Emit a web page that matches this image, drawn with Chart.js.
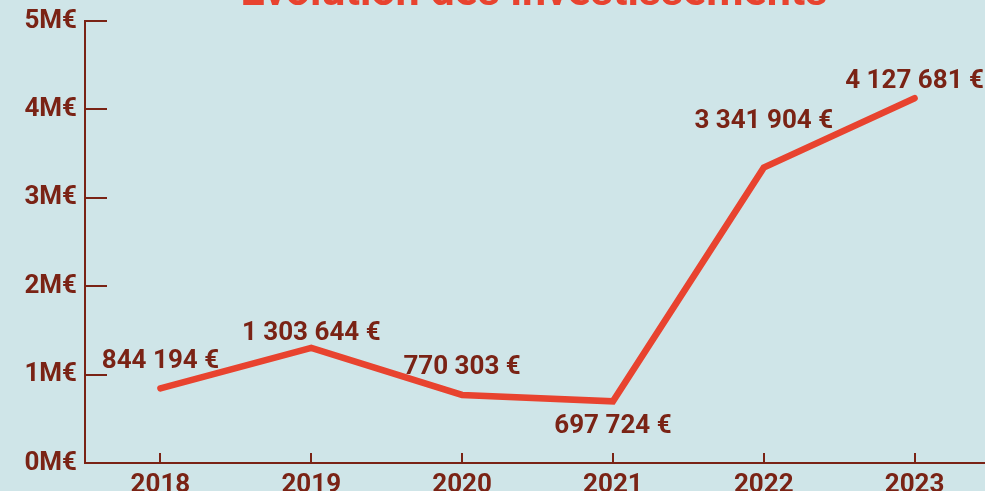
<!DOCTYPE html>
<html lang="fr">
<head>
<meta charset="utf-8">
<title>Évolution des investissements</title>
<script src="https://cdn.jsdelivr.net/npm/chart.js@4/dist/chart.umd.min.js"></script>
<style>
  html, body { margin: 0; padding: 0; background: #cfe5e8; }
  body { width: 985px; height: 491px; overflow: hidden; position: relative; }
  #chart { position: absolute; left: 0; top: -32px; }
</style>
</head>
<body>
<canvas id="chart" width="990" height="535"></canvas>
<script>
  // ── Data ────────────────────────────────────────────────────────────────
  const YEARS       = ['2018', '2019', '2020', '2021', '2022', '2023'];
  const INVEST      = [844194, 1303644, 770303, 697724, 3341904, 4127681];
  const Y_TICKS     = ['0M€', '1M€', '2M€', '3M€', '4M€', '5M€'];

  // vertical offset of each value label from its point (px, baseline)
  const LABEL_DY    = [-20, -8, -21, 32, -40, -10];

  const RED   = '#e8432f';
  const BROWN = '#7a2315';
  const FONT  = 'Roboto';

  const fmtEuro = v => String(v).replace(/\B(?=(\d{3})+(?!\d))/g, ' ') + ' €';

  // the original title is centred a bit right of the canvas middle
  const shiftTitle = {
    id: 'shiftTitle',
    afterLayout(chart) {
      if (chart.titleBlock) chart.titleBlock.left = 78;
    }
  };

  // ticks pointing inward (right on the y axis, up on the x axis)
  const innerTicks = {
    id: 'innerTicks',
    beforeDatasetsDraw(chart) {
      const { ctx, chartArea: a, scales: { x, y } } = chart;
      ctx.save();
      ctx.strokeStyle = BROWN;
      ctx.lineWidth = 2;
      ctx.beginPath();
      y.ticks.forEach(t => {
        const py = Math.round(y.getPixelForValue(t.value));
        ctx.moveTo(a.left, py);
        ctx.lineTo(a.left + 22, py);
      });
      x.ticks.forEach((t, i) => {
        const px = Math.round(x.getPixelForTick(i));
        ctx.moveTo(px, a.bottom);
        ctx.lineTo(px, a.bottom - 10);
      });
      ctx.stroke();
      ctx.restore();
    }
  };

  // value labels next to each point
  const valueLabels = {
    id: 'valueLabels',
    afterDatasetsDraw(chart) {
      const { ctx } = chart;
      const meta = chart.getDatasetMeta(0);
      ctx.save();
      ctx.font = `bold 26px ${FONT}`;
      ctx.fillStyle = BROWN;
      ctx.textAlign = 'center';
      ctx.textBaseline = 'alphabetic';
      meta.data.forEach((pt, i) => {
        ctx.fillText(fmtEuro(INVEST[i]), pt.x, pt.y + LABEL_DY[i]);
      });
      ctx.restore();
    }
  };

  new Chart(document.getElementById('chart'), {
    type: 'line',
    data: {
      labels: YEARS,
      datasets: [{
        data: INVEST,
        borderColor: RED,
        borderWidth: 6.5,
        borderCapStyle: 'round',
        borderJoinStyle: 'miter',
        pointRadius: 0,
        tension: 0,
        fill: false,
      }]
    },
    options: {
      responsive: false,
      animation: false,
      layout: { padding: 0 },
      scales: {
        x: {
          offset: true,
          grid: { display: false, drawTicks: false },
          border: { color: BROWN, width: 2 },
          ticks: { color: BROWN, padding: 7, font: { family: FONT, size: 26, weight: 'bold' } },
          afterFit: s => { s.height = 40; },
        },
        y: {
          min: 0, max: 5000000,
          grid: { display: false, drawTicks: false },
          border: { color: BROWN, width: 2 },
          ticks: {
            stepSize: 1000000,
            color: BROWN,
            padding: 8,
            font: { family: FONT, size: 26, weight: 'bold' },
            callback: (v, i) => Y_TICKS[i],
          },
          afterFit: s => { s.width = 85; },
        }
      },
      plugins: {
        legend: { display: false },
        tooltip: { enabled: false },
        title: {
          display: true,
          text: 'Évolution des investissements',
          color: RED,
          font: { family: FONT, size: 43, weight: 'bold' },
          padding: { top: 0, bottom: 1.5 },
        }
      }
    },
    plugins: [shiftTitle, innerTicks, valueLabels]
  });
</script>
</body>
</html>
